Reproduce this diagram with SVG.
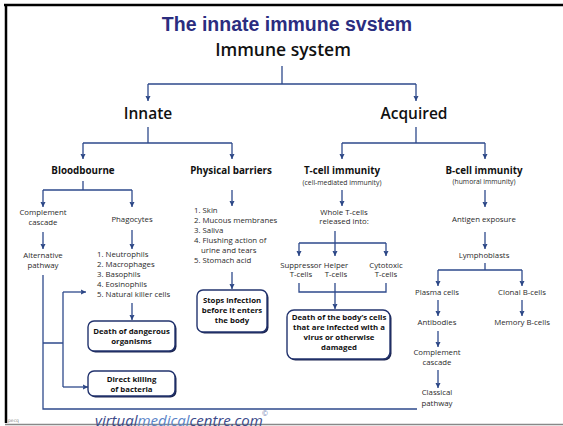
<svg xmlns="http://www.w3.org/2000/svg" width="563" height="426" viewBox="0 0 563 426">
<defs>
<marker id="ah" viewBox="0 0 8 8" refX="8" refY="4" markerWidth="5.5" markerHeight="6.5" markerUnits="userSpaceOnUse" orient="auto">
<path d="M0,0 L8,4 L0,8 L1.5,4 z" fill="#2a4585"/>
</marker>
<style>
.c{fill:none;stroke:#2e4a8c;stroke-width:1.3}
.a{marker-end:url(#ah)}
.t{font-family:"Open Sans","DejaVu Sans",sans-serif;fill:#2a2a2a;font-size:7.8px;text-anchor:middle}
.l{text-anchor:start}
.h{font-weight:700;font-size:9.8px;fill:#111}
.s{font-size:6.8px}
.m{font-family:"Open Sans","DejaVu Sans",sans-serif;font-weight:600;fill:#111;text-anchor:middle}
.bx{fill:#fff;stroke:#22336e;stroke-width:1.4}
.sh{fill:#1c2550}
.b{font-weight:700;fill:#111}
</style>
</defs>
<rect width="563" height="426" fill="#fff"/>
<g id="frame">
<path d="M4,5 H563" stroke="#000" stroke-width="2.5"/>
<path d="M6,4 V423" stroke="#000" stroke-width="2.5"/>
<path d="M5,424.5 H563" stroke="#888" stroke-width="1.5"/>
</g>
<g id="title">
<text x="287" y="31" font-family="Liberation Sans, Arial, sans-serif" font-weight="700" font-size="19.5" fill="#2b2d7f" text-anchor="middle">The innate immune svstem</text>
</g>
<g id="connectors">
<path class="c" d="M282,66 V84 M148,84 H416"/>
<path class="c a" d="M148,84 V101"/>
<path class="c a" d="M416,84 V101"/>
<path class="c" d="M148,127 V143 M83,143 H232"/>
<path class="c a" d="M83,143 V159"/>
<path class="c a" d="M232,143 V159"/>
<path class="c" d="M416,127 V143 M342,143 H485"/>
<path class="c a" d="M342,143 V159"/>
<path class="c a" d="M485,143 V159"/>
<path class="c" d="M83,181 V190 M43,190 H132"/>
<path class="c a" d="M43,190 V207"/>
<path class="c a" d="M132,190 V207"/>
<path class="c a" d="M43,232 V249"/>
<path class="c a" d="M132,230 V249"/>
<path class="c" d="M43,275 V409 H417 M43,343 H63 M63,292 V387"/>
<path class="c a" d="M63,292 H86"/>
<path class="c a" d="M63,387 H88"/>
<path class="c a" d="M132,303 V320"/>
<path class="c a" d="M232,190 V206"/>
<path class="c a" d="M232,272 V289"/>
<path class="c a" d="M342,190 V206"/>
<path class="c" d="M335,231 V243 M299,243 H386"/>
<path class="c a" d="M299,243 V256"/>
<path class="c a" d="M335,243 V256"/>
<path class="c a" d="M386,243 V256"/>
<path class="c" d="M299,283 V292 H386 V283 M335,283 V292"/>
<path class="c a" d="M335,292 V309"/>
<path class="c a" d="M485,190 V207"/>
<path class="c a" d="M485,232 V249"/>
<path class="c" d="M485,263 V270 M438,270 H522"/>
<path class="c a" d="M438,270 V286"/>
<path class="c a" d="M522,270 V286"/>
<path class="c a" d="M438,300 V316"/>
<path class="c a" d="M522,300 V316"/>
<path class="c a" d="M438,331 V347"/>
<path class="c a" d="M438,370 V388"/>
</g>
<g id="immune-system"><text class="m" x="283" y="56" font-size="17.5">Immune system</text></g>
<g id="innate"><text class="m" x="148" y="119" font-size="15.5">Innate</text></g>
<g id="acquired"><text class="m" x="414" y="119" font-size="15.5">Acquired</text></g>
<g id="bloodbourne"><text class="t h" x="83" y="174">Bloodbourne</text></g>
<g id="physical-barriers"><text class="t h" x="231" y="174">Physical barriers</text></g>
<g id="t-cell"><text class="t h" x="342" y="174">T-cell immunity</text><text class="t s" x="342" y="185">(cell-mediated immunity)</text></g>
<g id="b-cell"><text class="t h" x="484" y="174">B-cell immunity</text><text class="t s" x="484" y="184">(humoral immunity)</text></g>
<g id="complement-cascade-1"><text class="t" x="43" y="215">Complement</text><text class="t" x="43" y="225">cascade</text></g>
<g id="phagocytes"><text class="t" x="132" y="222">Phagocytes</text></g>
<g id="alternative-pathway"><text class="t" x="43" y="258">Alternative</text><text class="t" x="43" y="268">pathway</text></g>
<g id="phagocyte-list">
<text class="t l" x="97" y="257">1. Neutrophils</text>
<text class="t l" x="97" y="267">2. Macrophages</text>
<text class="t l" x="97" y="277">3. Basophils</text>
<text class="t l" x="97" y="287">4. Eosinophils</text>
<text class="t l" x="97" y="297">5. Natural killer cells</text>
</g>
<g id="death-dangerous">
<rect class="sh" x="89.5" y="322.5" width="87" height="30" rx="6"/>
<rect class="bx" x="88" y="321" width="87" height="30" rx="6"/>
<text class="t b" x="131.5" y="334">Death of dangerous</text>
<text class="t b" x="131.5" y="344">organisms</text>
</g>
<g id="direct-killing">
<rect class="sh" x="89.5" y="372.5" width="87" height="25" rx="6"/>
<rect class="bx" x="88" y="371" width="87" height="25" rx="6"/>
<text class="t b" x="131.5" y="382">Direct killing</text>
<text class="t b" x="131.5" y="392">of bacteria</text>
</g>
<g id="barrier-list">
<text class="t l" x="194" y="213">1. Skin</text>
<text class="t l" x="194" y="223">2. Mucous membranes</text>
<text class="t l" x="194" y="233">3. Saliva</text>
<text class="t l" x="194" y="243">4. Flushing action of</text>
<text class="t l" x="201" y="253">urine and tears</text>
<text class="t l" x="194" y="263">5. Stomach acid</text>
</g>
<g id="stops-infection">
<rect class="sh" x="198.5" y="291.5" width="70" height="42" rx="6"/>
<rect class="bx" x="197" y="290" width="70" height="42" rx="6"/>
<text class="t b" x="232" y="303">Stops infection</text>
<text class="t b" x="232" y="313">before it enters</text>
<text class="t b" x="232" y="323">the body</text>
</g>
<g id="whole-t-cells"><text class="t" x="344" y="215">Whole T-cells</text><text class="t" x="344" y="224">released into:</text></g>
<g id="suppressor"><text class="t" x="301" y="268">Suppressor</text><text class="t" x="301" y="277">T-cells</text></g>
<g id="helper"><text class="t" x="336" y="268">Helper</text><text class="t" x="336" y="277">T-cells</text></g>
<g id="cytotoxic"><text class="t" x="386" y="268">Cytotoxic</text><text class="t" x="386" y="277">T-cells</text></g>
<g id="death-body-cells">
<rect class="sh" x="288.5" y="311.5" width="103" height="49" rx="7"/>
<rect class="bx" x="287" y="310" width="103" height="49" rx="7"/>
<text class="t b" x="339" y="320">Death of the body’s cells</text>
<text class="t b" x="339" y="330">that are infected with a</text>
<text class="t b" x="339" y="340">virus or otherwise</text>
<text class="t b" x="339" y="350">damaged</text>
</g>
<g id="antigen-exposure"><text class="t" x="484" y="222">Antigen exposure</text></g>
<g id="lymphoblasts"><text class="t" x="484" y="258">Lymphoblasts</text></g>
<g id="plasma-cells"><text class="t" x="437" y="295">Plasma cells</text></g>
<g id="clonal-b-cells"><text class="t" x="522" y="295">Clonal B-cells</text></g>
<g id="antibodies"><text class="t" x="437" y="325">Antibodies</text></g>
<g id="memory-b-cells"><text class="t" x="522" y="325">Memory B-cells</text></g>
<g id="complement-cascade-2"><text class="t" x="437" y="355">Complement</text><text class="t" x="437" y="365">cascade</text></g>
<g id="classical-pathway"><text class="t" x="437" y="395">Classical</text><text class="t" x="437" y="406">pathway</text></g>
<g id="footer">
<text x="95" y="426" font-family="Open Sans, DejaVu Sans, sans-serif" font-style="italic" font-size="15" fill="#3b4a8a"><tspan>virtual</tspan><tspan fill="#5a84c8">medical</tspan><tspan>centre.com</tspan></text>
<text x="262" y="416" font-family="Open Sans, DejaVu Sans, sans-serif" font-size="7" fill="#6a7ab0">©</text>
<text x="8" y="422" font-family="DejaVu Sans, sans-serif" font-size="4.5" fill="#888">pecq</text>
</g>
</svg>
